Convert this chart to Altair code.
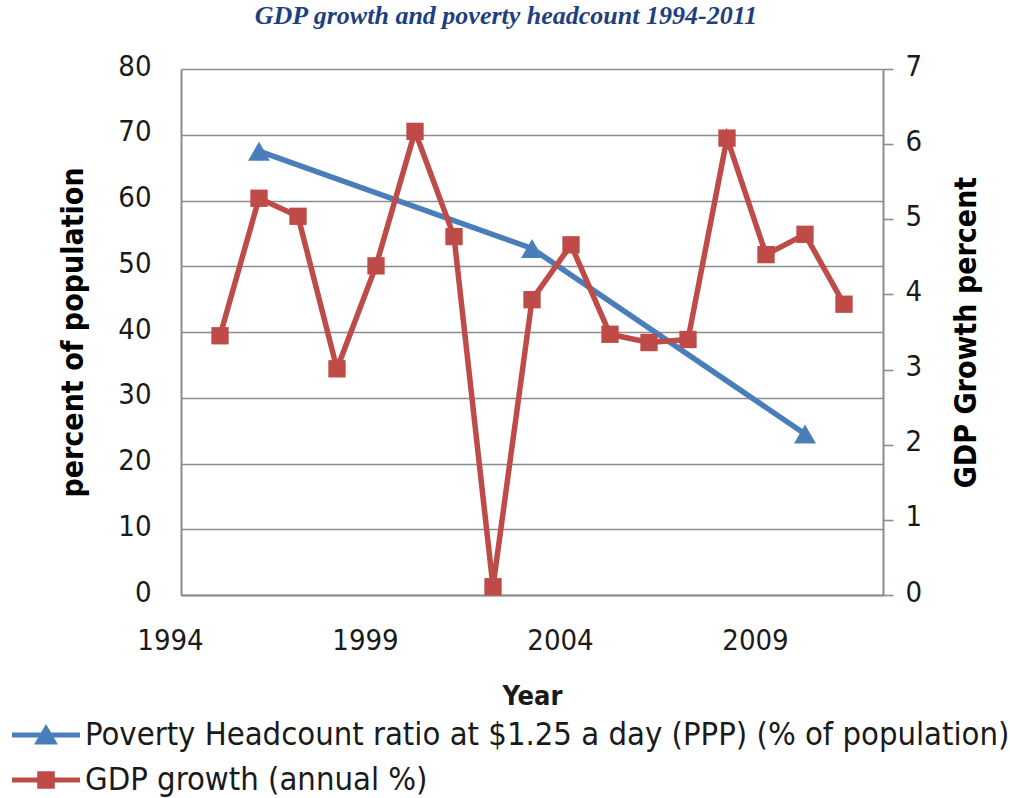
import altair as alt
import pandas as pd

# Data
gdp_years = list(range(1995, 2012))
gdp_growth = [3.45, 5.28, 5.04, 3.01, 4.38, 6.17, 4.77, 0.11, 3.93,
              4.66, 3.47, 3.36, 3.40, 6.08, 4.53, 4.80, 3.87]
pov_years = [1996, 2003, 2010]
pov_ratio = [67.5, 52.7, 24.5]

series_names = ["Poverty Headcount ratio at $1.25 a day (PPP) (% of population)",
                "GDP growth (annual %)"]
series_colors = ["#4A7EBB", "#BE4B48"]

x_ticks = [1994, 1999, 2004, 2009]
left_ticks = list(range(0, 81, 10))
right_ticks = list(range(0, 8))

gdp_df = pd.DataFrame({"year": gdp_years, "gdp": gdp_growth})
pov_df = pd.DataFrame({"year": pov_years, "pov": pov_ratio})
legend_df = pd.DataFrame({"series": series_names})

FONT = "Liberation Sans Narrow, DejaVu Sans Condensed, Open Sans"
AX = "#8C8C8C"

x_enc = alt.X(
    "year:Q",
    scale=alt.Scale(domain=[1994, 2012], nice=False, zero=False),
    axis=alt.Axis(values=x_ticks, format="d", title="Year", grid=False,
                  ticks=False, domainColor=AX, domainWidth=2,
                  labelFont=FONT, labelFontSize=29, labelColor="#1a1a1a",
                  labelPadding=31, labelOffset=-11, labelFlush=False,
                  titleFont=FONT, titleFontSize=27, titleFontWeight="bold",
                  titleColor="#1a1a1a", titlePadding=28),
)

pov_line = alt.Chart(pov_df).mark_line(color=series_colors[0], strokeWidth=5.5).encode(
    x=x_enc,
    y=alt.Y("pov:Q", scale=alt.Scale(domain=[0, 80], nice=False),
            axis=alt.Axis(orient="left", values=left_ticks, title="percent of population",
                          grid=True, gridColor=AX, gridWidth=1.6,
                          domainColor=AX, domainWidth=2, ticks=False,
                          labelFont=FONT, labelFontSize=29, labelColor="#1a1a1a",
                          labelPadding=30, labelOffset=-3,
                          titleFont=FONT, titleFontSize=30, titleFontWeight="bold",
                          titleColor="#000000", titlePadding=29)),
)
pov_pts = alt.Chart(pov_df).mark_point(shape="triangle-up", filled=True, opacity=1,
                                       color=series_colors[0], size=480).encode(
    x="year:Q", y="pov:Q")

gdp_line = alt.Chart(gdp_df).mark_line(color=series_colors[1], strokeWidth=5.5).encode(
    x="year:Q",
    y=alt.Y("gdp:Q", scale=alt.Scale(domain=[0, 7], nice=False),
            axis=alt.Axis(orient="right", values=right_ticks, format="d",
                          title="GDP Growth percent",
                          grid=False, domainColor=AX, domainWidth=2,
                          tickColor=AX, tickSize=10, tickWidth=1.6,
                          labelFont=FONT, labelFontSize=29, labelColor="#1a1a1a",
                          labelPadding=12, labelOffset=-3,
                          titleFont=FONT, titleFontSize=30, titleFontWeight="bold",
                          titleColor="#000000", titleAngle=270, titlePadding=60)),
)
gdp_pts = alt.Chart(gdp_df).mark_point(shape="square", filled=True, opacity=1,
                                       color=series_colors[1], size=300).encode(
    x="year:Q", y="gdp:Q")

tri_path = "M-1.7,-0.12H1.7V0.12H-1.7Z M0,-0.55L0.6,0.48H-0.6Z"
sq_path = "M-1.7,-0.12H1.7V0.12H-1.7Z M-0.44,-0.44H0.44V0.44H-0.44Z"

legend_layer = alt.Chart(legend_df).mark_point(filled=True, opacity=1).encode(
    color=alt.Color("series:N", scale=alt.Scale(domain=series_names, range=series_colors),
                    legend=alt.Legend(orient="none", legendX=-155, legendY=646,
                                      title=None, direction="vertical",
                                      symbolSize=1600, symbolStrokeWidth=0,
                                      symbolOpacity=1, padding=0, rowPadding=8,
                                      labelFont=FONT, labelFontSize=32.5, labelColor="#1a1a1a",
                                      labelOffset=19, labelLimit=1000)),
    shape=alt.Shape("series:N", scale=alt.Scale(domain=series_names, range=[tri_path, sq_path])),
).transform_filter("false")

left = alt.layer(pov_line, pov_pts)
right = alt.layer(gdp_line, gdp_pts)

chart = alt.layer(left, right, legend_layer).resolve_scale(
    y="independent"
).properties(
    width=702, height=526,
    autosize=alt.AutoSizeParams(type="none"),
    padding={"left": 181, "top": 69, "right": 127, "bottom": 203},
    title=alt.Title("GDP growth and poverty headcount 1994-2011",
                    font="Liberation Serif", fontSize=26, fontStyle="italic",
                    fontWeight="bold", color="#1F3F7F", anchor="middle",
                    dx=-26, offset=23),
).configure_view(stroke=None).configure(background="white")

chart.save("out.html", embed_options={"renderer": "svg", "actions": False})
